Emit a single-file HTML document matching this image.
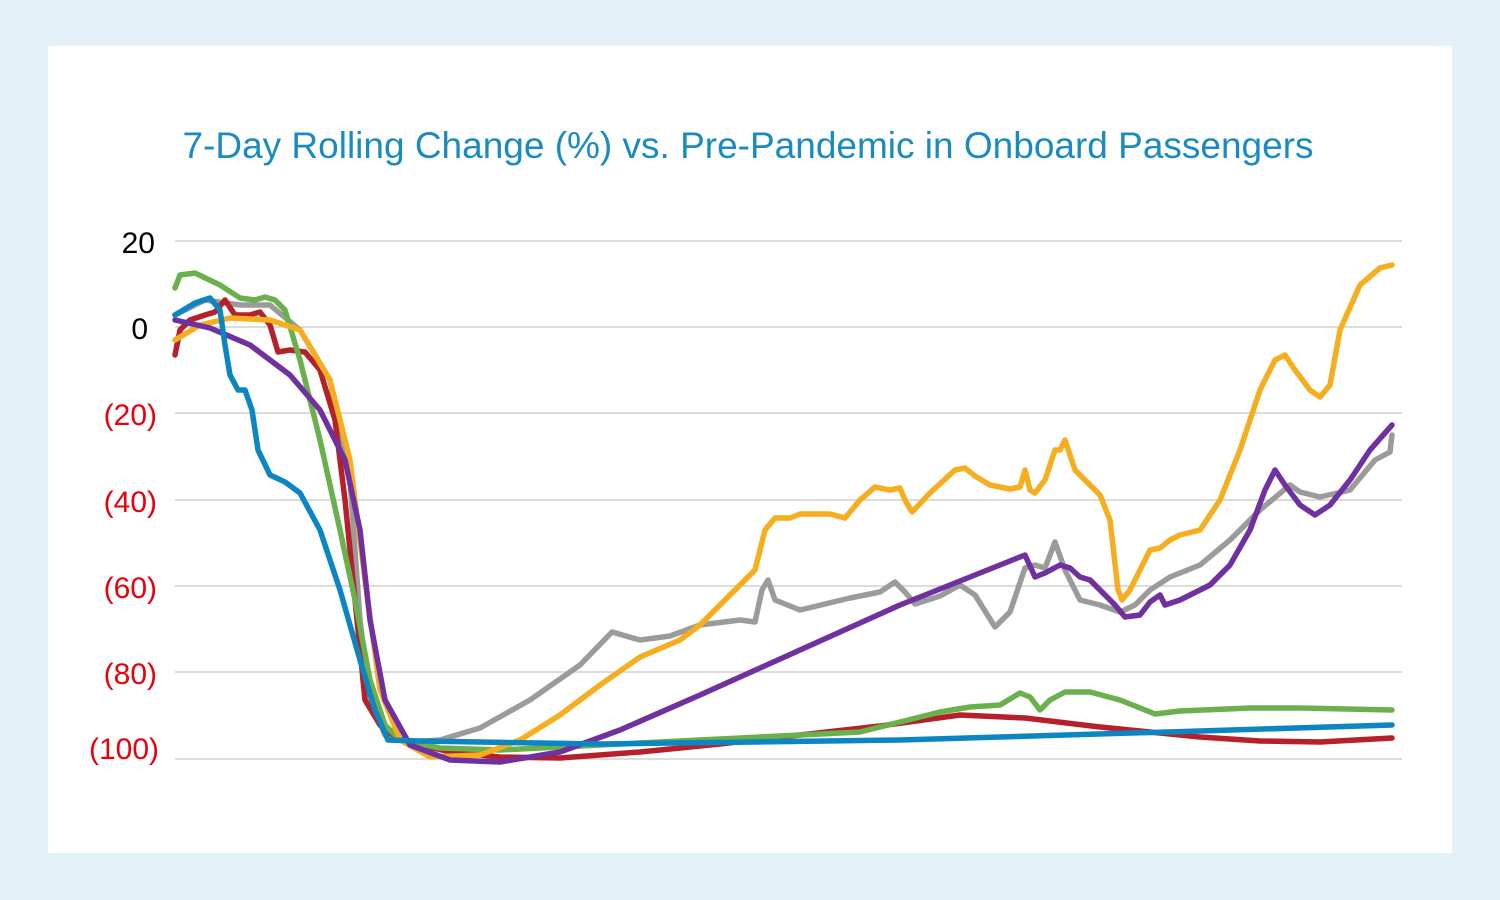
<!DOCTYPE html>
<html><head><meta charset="utf-8"><style>
html,body{margin:0;padding:0;background:#e4f1f8;}
body{width:1500px;height:900px;position:relative;overflow:hidden;font-family:"Liberation Sans",sans-serif;}
#panel{position:absolute;left:48px;top:46px;width:1404px;height:807px;background:#fff;}
svg{position:absolute;left:0;top:0;}
</style></head><body>
<div id="panel"></div>
<svg width="1500" height="900" xmlns="http://www.w3.org/2000/svg">
<text x="748" y="158" text-anchor="middle" font-family="Liberation Sans, sans-serif" font-size="37" fill="#1a8bc0">7-Day Rolling Change (%) vs. Pre-Pandemic in Onboard Passengers</text>
<g stroke="#c8c8c8" stroke-width="1.2">
<line x1="175" y1="241" x2="1402" y2="241"/>
<line x1="175" y1="327" x2="1402" y2="327"/>
<line x1="175" y1="413" x2="1402" y2="413"/>
<line x1="175" y1="500" x2="1402" y2="500"/>
<line x1="175" y1="586" x2="1402" y2="586"/>
<line x1="175" y1="672" x2="1402" y2="672"/>
<line x1="175" y1="759" x2="1402" y2="759"/>
</g>
<g font-family="Liberation Sans, sans-serif" font-size="30" text-anchor="end">
<text x="155" y="253" fill="#000">20</text>
<text x="148" y="339" fill="#000">0</text>
<text x="157" y="425" fill="#e8000b">(20)</text>
<text x="157" y="512" fill="#e8000b">(40)</text>
<text x="157" y="598" fill="#e8000b">(60)</text>
<text x="157" y="684" fill="#e8000b">(80)</text>
<text x="159" y="759" fill="#e8000b">(100)</text>
</g>
<g fill="none" stroke-width="5.5" stroke-linejoin="round" stroke-linecap="round">
<polyline stroke="#9b9b9b" points="175,315 205,300 240,305 270,305 300,330 330,380 350,480 360,620 370,700 385,735 410,742 440,740 480,728 530,700 580,665 612,632 640,640 670,636 700,625 740,620 755,622 762,590 768,580 775,600 800,610 850,598 880,592 895,582 905,592 915,604 940,596 960,585 975,595 995,627 1010,612 1025,568 1035,565 1045,568 1055,542 1065,570 1080,600 1100,605 1120,612 1135,605 1150,590 1170,577 1200,565 1230,540 1260,510 1290,485 1300,492 1320,497 1350,490 1375,460 1390,452 1392,435"/>
<polyline stroke="#b5202a" points="175,355 180,330 190,320 205,315 215,312 225,300 235,315 250,315 260,312 270,325 278,352 290,350 305,352 320,370 335,420 345,500 355,600 365,700 380,725 400,740 450,752 500,757 560,758 640,752 720,744 800,735 880,726 960,715 1025,718 1100,727 1160,733 1200,737 1260,741 1320,742 1392,738"/>
<polyline stroke="#6ab04c" points="175,288 180,275 195,273 220,285 240,298 255,300 265,297 275,300 285,310 300,360 320,440 340,530 355,600 370,680 385,725 400,740 440,748 500,750 600,745 700,740 800,735 860,732 900,722 940,712 970,707 1000,705 1020,693 1030,697 1040,710 1050,700 1065,692 1090,692 1120,700 1155,714 1180,711 1250,708 1300,708 1392,710"/>
<polyline stroke="#f6ad1e" points="175,340 200,325 230,318 270,320 300,330 330,380 350,460 365,580 380,690 400,740 430,757 480,755 520,740 560,715 600,685 640,657 680,640 700,625 720,605 740,585 755,570 765,530 775,518 790,518 800,514 830,514 845,518 860,500 875,487 890,490 900,488 905,500 912,512 930,493 955,470 965,468 975,476 990,485 1010,489 1020,487 1025,470 1030,490 1035,493 1045,480 1055,450 1060,450 1065,440 1075,470 1090,485 1100,495 1110,520 1118,590 1122,600 1130,590 1140,570 1150,550 1160,548 1170,540 1180,535 1200,530 1220,500 1240,450 1260,390 1275,360 1285,355 1295,370 1310,390 1320,397 1330,385 1340,330 1360,285 1380,268 1392,265"/>
<polyline stroke="#7030a0" points="175,320 210,328 250,345 290,375 320,410 345,460 360,530 370,620 385,700 410,745 450,760 500,762 560,752 620,730 700,695 800,650 900,605 1000,565 1025,555 1035,577 1045,573 1060,565 1070,568 1080,577 1090,580 1100,590 1115,605 1125,617 1140,615 1150,602 1160,595 1165,605 1180,600 1210,585 1230,565 1250,530 1265,490 1275,470 1285,485 1300,505 1315,515 1330,505 1350,480 1370,450 1392,425"/>
<polyline stroke="#0c86c2" points="175,315 195,303 210,298 220,310 225,345 230,375 238,390 245,390 252,410 258,450 270,475 285,482 300,493 320,530 340,590 360,660 375,710 388,740 420,741 600,744 900,740 1200,731 1392,725"/>
</g>
</svg>
</body></html>
